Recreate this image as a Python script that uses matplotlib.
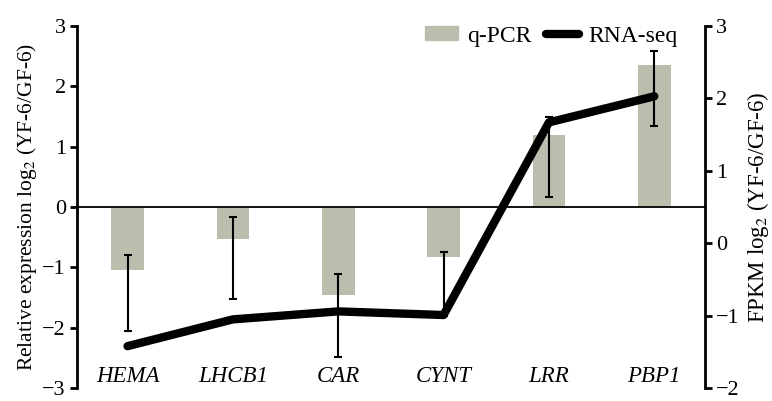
import matplotlib
matplotlib.use("Agg")
import matplotlib.pyplot as plt
import numpy as np
from matplotlib.patches import Patch
from matplotlib.lines import Line2D

plt.rcParams['font.family'] = 'Liberation Serif'
plt.rcParams['mathtext.fontset'] = 'stix'

# data
genes = ['HEMA', 'LHCB1', 'CAR', 'CYNT', 'LRR', 'PBP1']
qpcr = [-1.05, -0.53, -1.45, -0.83, 1.19, 2.36]
err_low = [-2.06, -1.53, -2.48, -1.80, 0.16, 1.35]    # lower end of error bar
err_high = [-0.80, -0.17, -1.10, -0.75, 1.50, 2.59]   # upper end of error bar
rnaseq = [-1.42, -1.05, -0.94, -0.99, 1.67, 2.03]

x = np.arange(len(genes))

fig = plt.figure(figsize=(7.72, 4.01), dpi=100)
ax = fig.add_axes([0.0997, 0.032, 0.8133, 0.903])

bar_color = '#bdbdae'
ax.bar(x, qpcr, width=0.31, color=bar_color, zorder=1)
yerr = [np.array(qpcr) - np.array(err_low), np.array(err_high) - np.array(qpcr)]
ax.errorbar(x, qpcr, yerr=yerr, fmt='none', ecolor='black', elinewidth=1.5,
            capsize=3, capthick=1.5, zorder=2)
ax.axhline(0, color='black', lw=1.3, zorder=3)

ax.set_xlim(-0.48, 5.48)
ax.set_ylim(-3, 3)
ax.set_yticks([-3, -2, -1, 0, 1, 2, 3])
ax.set_yticklabels(['\u22123', '\u22122', '\u22121', '0', '1', '2', '3'])
ax.set_xticks([])
for s in ['top', 'bottom', 'right']:
    ax.spines[s].set_visible(False)
ax.spines['left'].set_linewidth(2)
ax.tick_params(axis='y', direction='out', length=5, width=2, labelsize=16, pad=3)
ax.set_ylabel('Relative expression log$_2$ (YF-6/GF-6)', fontsize=15.5, labelpad=2)

for xi, g in zip(x, genes):
    ax.text(xi, -2.8, g, ha='center', va='center', fontsize=16.5, style='italic')

ax2 = ax.twinx()
ax2.plot(x, rnaseq, color='black', lw=6, solid_capstyle='round',
         solid_joinstyle='round', zorder=4)
ax2.set_ylim(-2, 3)
ax2.set_yticks([-2, -1, 0, 1, 2, 3])
ax2.set_yticklabels(['\u22122', '\u22121', '0', '1', '2', '3'])
for s in ['top', 'bottom', 'left']:
    ax2.spines[s].set_visible(False)
ax2.spines['right'].set_linewidth(2)
ax2.tick_params(axis='y', direction='out', length=5, width=2, labelsize=16, pad=3)
ax2.set_ylabel('FPKM log$_2$ (YF-6/GF-6)', fontsize=16.5, labelpad=4)

handles = [Patch(color=bar_color), Line2D([], [], color='black', lw=6, solid_capstyle='round')]
ax2.legend(handles, ['q-PCR', 'RNA-seq'], loc='upper right', ncol=2, frameon=False,
           fontsize=17, bbox_to_anchor=(0.99, 1.06), handlelength=1.4, handleheight=0.5,
           handletextpad=0.4, columnspacing=0.6)

fig.savefig('out.png', dpi=100)
